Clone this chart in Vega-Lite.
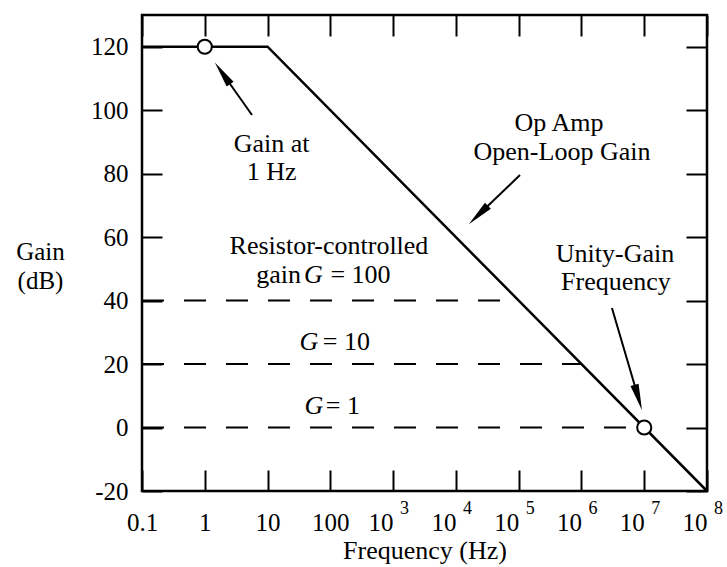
{
  "$schema": "https://vega.github.io/schema/vega-lite/v6.json",
  "width": 565,
  "height": 476,
  "autosize": {"type": "none"},
  "padding": {"left": 142, "top": 15, "right": 20, "bottom": 76},
  "background": "white",
  "config": {
    "view": {"stroke": "black", "strokeWidth": 2.5},
    "font": "Liberation Serif",
    "axis": {
      "domain": false, "grid": false, "tickColor": "black", "tickWidth": 2,
      "labelColor": "black", "titleColor": "black",
      "labelFont": "Liberation Serif", "titleFont": "Liberation Serif",
      "labelFontSize": 25, "titleFontSize": 26, "titleFontWeight": "normal",
      "labelFlush": false, "labelOverlap": false
    }
  },
  "datasets": {
    "curve": [{"f": 0.1, "g": 120}, {"f": 10, "g": 120}, {"f": 100000000, "g": -20}],
    "dashes": [
      {"s": "G100", "f": 0.1, "g": 40}, {"s": "G100", "f": 100000, "g": 40},
      {"s": "G10", "f": 0.1, "g": 20}, {"s": "G10", "f": 1000000, "g": 20},
      {"s": "G1", "f": 0.1, "g": 0}, {"s": "G1", "f": 10000000, "g": 0}
    ],
    "markers": [{"f": 1, "g": 120}, {"f": 10000000, "g": 0}],
    "labels": [
      {"t": "Gain at", "f": 11.64, "g": 89.35},
      {"t": "1 Hz", "f": 11.64, "g": 80.68},
      {"t": "Op Amp", "f": 439000, "g": 95.81},
      {"t": "Open-Loop Gain", "f": 490000, "g": 86.92},
      {"t": "Resistor-controlled", "f": 95.2, "g": 57.05},
      {"t": "gain", "f": 14.94, "g": 48.07},
      {"t": "= 100", "f": 302.3, "g": 48.07},
      {"t": "= 10", "f": 180, "g": 27.11},
      {"t": "= 1", "f": 158, "g": 6.63},
      {"t": "Unity-Gain", "f": 3420000, "g": 54.69},
      {"t": "Frequency", "f": 3550000, "g": 45.96}
    ],
    "italic": [
      {"t": "G", "f": 53.9, "g": 48.07},
      {"t": "G", "f": 45.7, "g": 27.11},
      {"t": "G", "f": 54.9, "g": 6.63}
    ],
    "arrows": [
      {"x1": 5.65, "y1": 98.49, "x2": 1.915, "y2": 111.63, "a": 324.7},
      {"x1": 105000, "y1": 79.58, "x2": 22800, "y2": 66.98, "a": 226.15},
      {"x1": 3060000, "y1": 37.67, "x2": 8040000, "y2": 9.46, "a": 163.6}
    ],
    "exponents": [
      {"f": 1000, "e": "3"}, {"f": 10000, "e": "4"}, {"f": 100000, "e": "5"},
      {"f": 1000000, "e": "6"}, {"f": 10000000, "e": "7"}, {"f": 100000000, "e": "8"}
    ]
  },
  "layer": [
    {
      "data": {"name": "curve"},
      "mark": {"type": "line", "color": "black", "strokeWidth": 2.5},
      "encoding": {
        "x": {
          "field": "f", "type": "quantitative",
          "scale": {"type": "log", "domain": [0.1, 100000000], "nice": false},
          "axis": {
            "orient": "bottom",
            "values": [0.1, 1, 10, 100, 1000, 10000, 100000, 1000000, 10000000, 100000000],
            "tickSize": -21,
            "labelPadding": 40,
            "labelExpr": "datum.value < 0.5 ? '0.1' : (datum.value < 1000 ? format(datum.value, 'd') : '10')",
            "labelAlign": {"condition": {"test": "datum.value >= 1000", "value": "right"}, "value": "center"},
            "title": "Frequency (Hz)",
            "titleY": 67,
            "titleBaseline": "alphabetic"
          }
        },
        "y": {
          "field": "g", "type": "quantitative",
          "scale": {"domain": [-20, 130], "nice": false, "zero": false},
          "axis": {
            "orient": "left",
            "values": [-20, 0, 20, 40, 60, 80, 100, 120],
            "tickSize": -20,
            "labelPadding": 34,
            "labelExpr": "datum.value < 0 ? '-20' : datum.label",
            "title": ["Gain", "(dB)"],
            "titleAngle": 0,
            "titleAlign": "center",
            "titleBaseline": "top",
            "titleFontSize": 25,
            "titleX": -102,
            "titleY": 224,
            "titleLineHeight": 29
          }
        }
      }
    },
    {
      "data": {"name": "curve"},
      "mark": {"type": "point", "opacity": 0},
      "encoding": {
        "x": {
          "field": "f", "type": "quantitative",
          "scale": {"type": "log", "domain": [0.1, 100000000], "nice": false},
          "axis": {
            "orient": "top", "labels": false, "title": null,
            "values": [0.1, 1, 10, 100, 1000, 10000, 100000, 1000000, 10000000, 100000000],
            "tickSize": -21
          }
        },
        "y": {
          "field": "g", "type": "quantitative",
          "scale": {"domain": [-20, 130], "nice": false, "zero": false},
          "axis": {
            "orient": "right", "labels": false, "title": null,
            "values": [-20, 0, 20, 40, 60, 80, 100, 120],
            "tickSize": -21
          }
        }
      }
    },
    {
      "data": {"name": "dashes"},
      "mark": {"type": "line", "color": "black", "strokeWidth": 2, "strokeDash": [22, 20]},
      "encoding": {
        "x": {"field": "f", "type": "quantitative", "scale": {"type": "log", "domain": [0.1, 100000000], "nice": false}, "axis": null},
        "y": {"field": "g", "type": "quantitative", "scale": {"domain": [-20, 130], "nice": false, "zero": false}, "axis": null},
        "detail": {"field": "s"}
      }
    },
    {
      "data": {"name": "arrows"},
      "mark": {"type": "rule", "color": "black", "strokeWidth": 2},
      "encoding": {
        "x": {"field": "x1", "type": "quantitative", "scale": {"type": "log", "domain": [0.1, 100000000], "nice": false}, "axis": null},
        "x2": {"field": "x2"},
        "y": {"field": "y1", "type": "quantitative", "scale": {"domain": [-20, 130], "nice": false, "zero": false}, "axis": null},
        "y2": {"field": "y2"}
      }
    },
    {
      "data": {"name": "arrows"},
      "mark": {"type": "point", "shape": "M0,-1L0.32,1L-0.32,1Z", "filled": true, "color": "black", "opacity": 1, "size": 700},
      "encoding": {
        "x": {"field": "x2", "type": "quantitative", "scale": {"type": "log", "domain": [0.1, 100000000], "nice": false}, "axis": null},
        "y": {"field": "y2", "type": "quantitative", "scale": {"domain": [-20, 130], "nice": false, "zero": false}, "axis": null},
        "angle": {"field": "a", "type": "quantitative", "scale": null}
      }
    },
    {
      "data": {"name": "markers"},
      "mark": {"type": "point", "shape": "circle", "filled": true, "fill": "white", "stroke": "black", "strokeWidth": 2, "opacity": 1, "size": 200},
      "encoding": {
        "x": {"field": "f", "type": "quantitative", "scale": {"type": "log", "domain": [0.1, 100000000], "nice": false}, "axis": null},
        "y": {"field": "g", "type": "quantitative", "scale": {"domain": [-20, 130], "nice": false, "zero": false}, "axis": null}
      }
    },
    {
      "data": {"name": "labels"},
      "mark": {"type": "text", "font": "Liberation Serif", "fontSize": 26, "align": "center", "baseline": "middle", "color": "black"},
      "encoding": {
        "x": {"field": "f", "type": "quantitative", "scale": {"type": "log", "domain": [0.1, 100000000], "nice": false}, "axis": null},
        "y": {"field": "g", "type": "quantitative", "scale": {"domain": [-20, 130], "nice": false, "zero": false}, "axis": null},
        "text": {"field": "t"}
      }
    },
    {
      "data": {"name": "italic"},
      "mark": {"type": "text", "font": "Liberation Serif", "fontStyle": "italic", "fontSize": 26, "align": "center", "baseline": "middle", "color": "black"},
      "encoding": {
        "x": {"field": "f", "type": "quantitative", "scale": {"type": "log", "domain": [0.1, 100000000], "nice": false}, "axis": null},
        "y": {"field": "g", "type": "quantitative", "scale": {"domain": [-20, 130], "nice": false, "zero": false}, "axis": null},
        "text": {"field": "t"}
      }
    },
    {
      "data": {"name": "exponents"},
      "mark": {"type": "text", "font": "Liberation Serif", "fontSize": 18, "align": "left", "baseline": "alphabetic", "dx": 7, "dy": 23, "color": "black"},
      "encoding": {
        "x": {"field": "f", "type": "quantitative", "scale": {"type": "log", "domain": [0.1, 100000000], "nice": false}, "axis": null},
        "y": {"datum": -20, "type": "quantitative", "scale": {"domain": [-20, 130], "nice": false, "zero": false}, "axis": null},
        "text": {"field": "e"}
      }
    }
  ],
  "resolve": {"axis": {"x": "independent", "y": "independent"}}
}
